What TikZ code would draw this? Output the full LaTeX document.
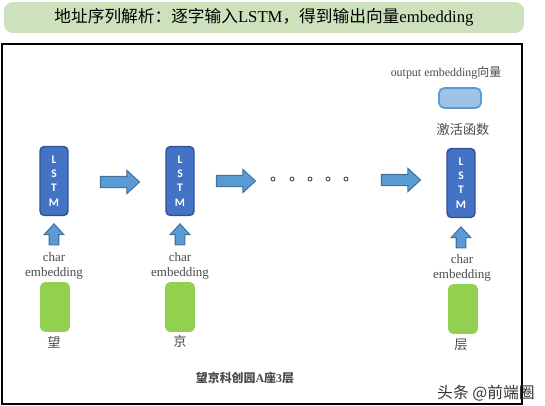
\documentclass[tikz,border=0pt]{standalone}
\usepackage{fontspec}
\setmainfont{Liberation Serif}
\newfontfamily\cjk{Noto Sans CJK SC}
\newfontfamily\cali{Carlito}
\usetikzlibrary{shapes.arrows}
\definecolor{lstmblue}{HTML}{4472C4}
\definecolor{lstmedge}{HTML}{2F528F}
\definecolor{arrowblue}{HTML}{5B9BD5}
\definecolor{arrowedge}{HTML}{41719C}
\definecolor{outblue}{HTML}{9DC3E6}
\definecolor{chargreen}{HTML}{92D050}
\definecolor{titlegreen}{HTML}{CDE2BC}
\definecolor{labelgray}{HTML}{4A4A4A}
\begin{document}
\begin{tikzpicture}[x=0.02cm,y=-0.02cm,
    lstm/.style={draw=lstmedge,fill=lstmblue,line width=0.8pt,rounded corners=2.5pt,
      minimum width=0.56cm,minimum height=1.38cm,inner sep=0pt,text=white,align=center,
      font=\cali\bfseries\fontsize{6.6}{8.2}\selectfont},
    charbox/.style={fill=chargreen,rounded corners=3pt,minimum width=0.6cm,minimum height=1.0cm,inner sep=0pt},
    outbox/.style={draw=arrowblue,fill=outblue,line width=1pt,rounded corners=3pt,
      minimum width=0.84cm,minimum height=0.4cm,inner sep=0pt},
    rarrow/.style={single arrow,draw=arrowedge,fill=arrowblue,line width=0.6pt,
      inner sep=0.1cm,single arrow head extend=0.12cm,single arrow tip angle=85,minimum height=0.78cm},
    uparrow/.style={single arrow,draw=arrowedge,fill=arrowblue,line width=0.6pt,rotate=90,
      inner sep=0.085cm,single arrow head extend=0.1cm,single arrow tip angle=85,minimum height=0.42cm},
    dot/.style={circle,draw=labelgray,fill=white,line width=0.5pt,minimum size=0.08cm,inner sep=0pt},
    lbl/.style={text=labelgray,align=center,inner sep=0pt,font=\fontsize{7.4}{8.5}\selectfont},
    hanzi/.style={text=labelgray,inner sep=0pt,font=\cjk\fontsize{7.5}{9}\selectfont}]
  \useasboundingbox (0,0) rectangle (545,406);

  \node(title) at (264,17.5) [fill=titlegreen,rounded corners=5pt,minimum width=10.4cm,minimum height=0.62cm,
    font=\fontsize{9.5}{11}\selectfont] {{\cjk 地址序列解析：逐字输入}LSTM{\cjk ，得到输出向量}embedding};
  \draw[line width=1.4pt] (2,44) rectangle (522,404);

  \node(l1) at (54,181) [lstm] {L\\S\\T\\M};
  \node(l2) at (180,181) [lstm] {L\\S\\T\\M};
  \node(l3) at (461,183) [lstm] {L\\S\\T\\M};

  \node(r1) at (117,182) [rarrow] {};
  \node(r2) at (233,181) [rarrow] {};
  \foreach \i/\x in {1/273,2/292,3/310,4/328,5/346}
    \node(d\i) at (\x,179) [dot] {};
  \node(r3) at (398,180) [rarrow] {};

  \node(u1) at (54,237) [uparrow] {};
  \node(u2) at (180,237) [uparrow] {};
  \node(u3) at (461,240) [uparrow] {};

  \node(e1) at (54,266) [lbl] {char\\embedding};
  \node(e2) at (180,266) [lbl] {char\\embedding};
  \node(e3) at (462,268) [lbl] {char\\embedding};

  \node(c1) at (55,307) [charbox] {};
  \node(c2) at (180,307) [charbox] {};
  \node(c3) at (463,309) [charbox] {};

  \node(w1) at (54,342) [hanzi] {望};
  \node(w2) at (180,341) [hanzi] {京};
  \node(w3) at (461,345) [hanzi] {层};

  \node(out) at (460,98) [outbox] {};
  \node(outlbl) at (446,73) [lbl,font=\fontsize{6.8}{8}\selectfont] {output embedding{\cjk 向量}};
  \node(act) at (463,130) [hanzi] {激活函数};

  \node(addr) at (245,378) [text=labelgray,inner sep=0pt,font=\bfseries\fontsize{6.8}{8}\selectfont]
    {{\cjk 望京科创园}A{\cjk 座}3{\cjk 层}};
  \node(mark) at (486,393) [text=black!80,inner sep=0pt,font=\cjk\fontsize{9}{10}\selectfont] {头条 @前端圈};
\end{tikzpicture}
\end{document}
